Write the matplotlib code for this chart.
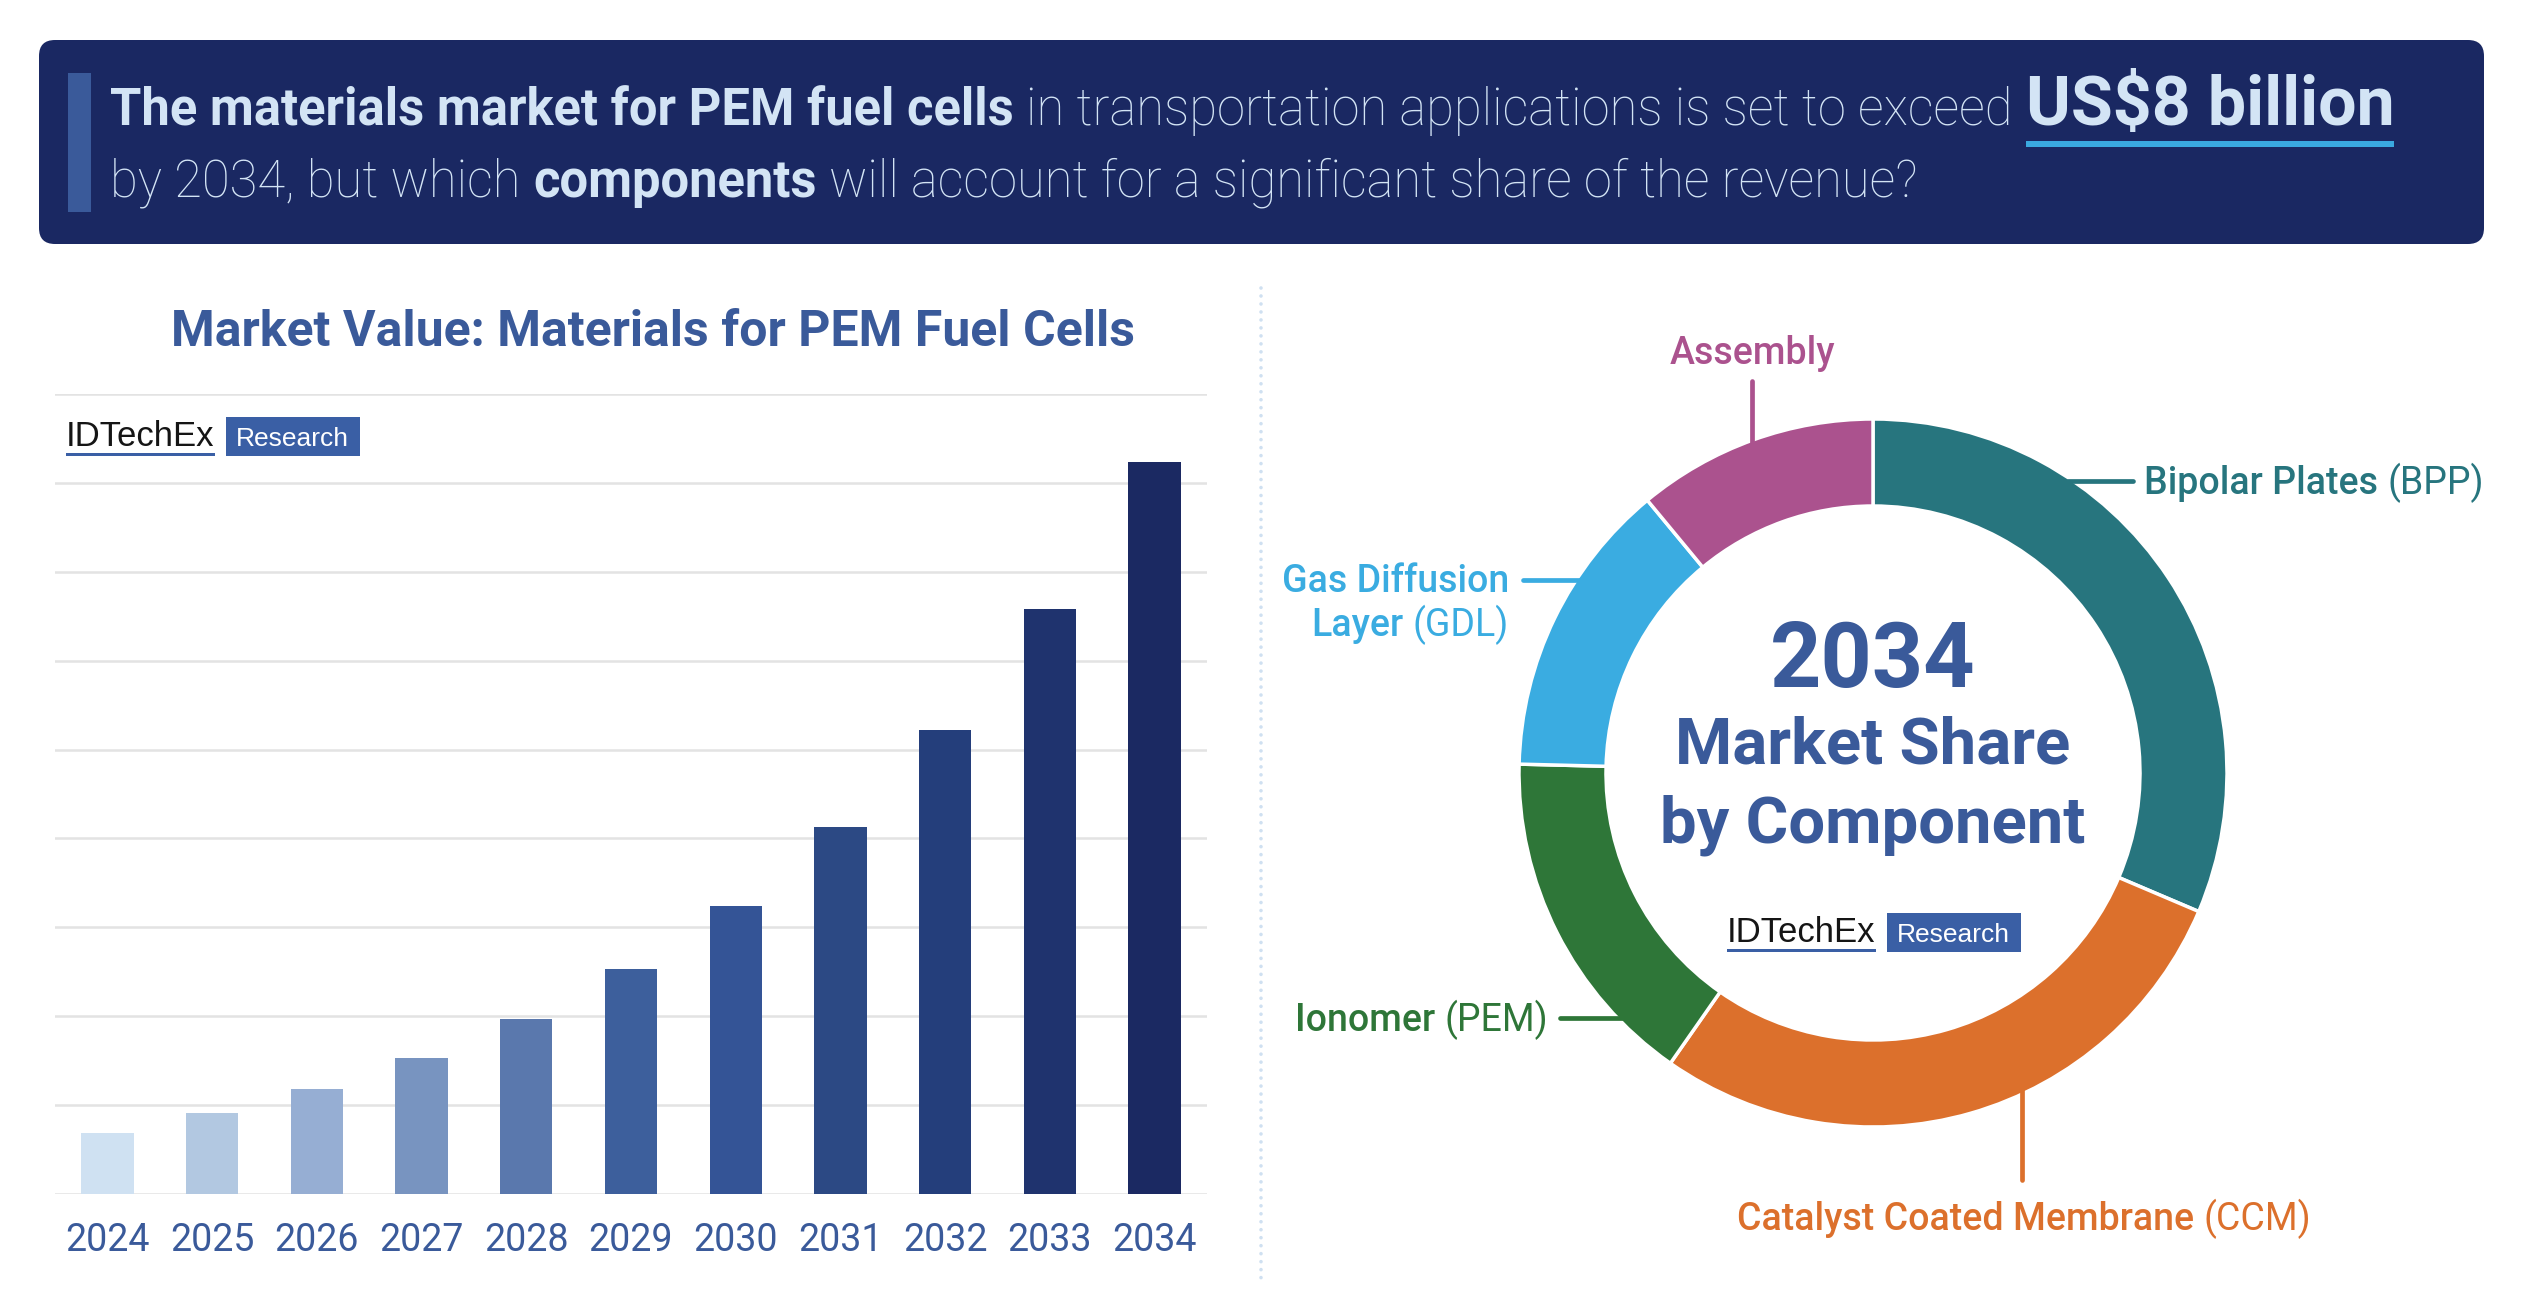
import matplotlib
matplotlib.use('Agg')
import matplotlib.pyplot as plt
from matplotlib.patches import FancyBboxPatch, Rectangle
import numpy as np

# --- data ---
years = ['2024', '2025', '2026', '2027', '2028', '2029', '2030', '2031', '2032', '2033', '2034']
market_value = [0.69, 0.91, 1.18, 1.53, 1.97, 2.53, 3.24, 4.13, 5.22, 6.58, 8.24]  # US$ billion
bar_colors = ['#cfe1f2', '#b2c8e1', '#96aed3', '#7894c0', '#5a78ad', '#3d5f9c',
              '#345496', '#2c4984', '#243e7b', '#1f336e', '#1b2962']

components = ['Bipolar Plates', 'Catalyst Coated Membrane', 'Ionomer', 'Gas Diffusion Layer', 'Assembly']
abbrev = ['(BPP)', '(CCM)', '(PEM)', '(GDL)', '']
share_2034 = [31.4, 28.3, 15.7, 13.6, 11.0]  # % of 2034 market
component_colors = ['#27757e', '#dc702c', '#2e7638', '#3aace1', '#ab528e']

W, H = 2541, 1302
NAVY = '#1a2862'
PALE = '#d3e4f5'
BLUE = '#3a5a9a'
LOGO = '#3a5fa5'
FONT = ['Roboto', 'DejaVu Sans']
ARIAL = ['Liberation Sans', 'DejaVu Sans']

fig = plt.figure(figsize=(W / 100, H / 100), dpi=100)
fig.patch.set_facecolor('white')

# overlay axes in pixel units (y down) for banner, text and leaders
over = fig.add_axes([0, 0, 1, 1], zorder=3)
over.set_xlim(0, W)
over.set_ylim(H, 0)
over.axis('off')
over.patch.set_alpha(0)

renderer = fig.canvas.get_renderer()


def px(pt):
    return pt * 100 / 72


def rich_line(x, y, pieces, size, color, ha='left'):
    """Schreibt mehrere Textstücke mit verschiedenem Gewicht auf eine Zeile."""
    texts, widths = [], []
    for s, weight, k in pieces:
        t = over.text(0, y, s, fontsize=size * k, fontweight=weight, color=color,
                      family=FONT, va='baseline', ha='left')
        texts.append(t)
        widths.append(t.get_window_extent(renderer).width)
    gap = 0.25 * px(size)
    total = sum(widths) + gap * (len(texts) - 1)
    start = {'left': x, 'right': x - total, 'center': x - total / 2}[ha]
    for t, w in zip(texts, widths):
        t.set_x(start)
        start += w + gap
    return texts, total


# --- header banner ---
over.add_patch(FancyBboxPatch((39, 40), 2445, 204, boxstyle='round,pad=0,rounding_size=16',
                              fc=NAVY, ec='none'))
over.add_patch(Rectangle((68, 73), 23, 139, fc=BLUE, ec='none'))

line1 = [('The materials market for PEM fuel cells', 'bold', 1),
         ('in transportation applications is set to exceed', 'light', 1),
         ('US$8 billion', 'bold', 1.34)]
line2 = [('by 2034, but which', 'light', 1),
         ('components', 'bold', 1),
         ('will account for a significant share of the revenue?', 'light', 1)]

tmp, w0 = rich_line(110, 125, line1, 36, PALE)
size = 36 * 2288 / w0
for t in tmp:
    t.remove()
t1, _ = rich_line(110, 125, line1, size, PALE)
t2, _ = rich_line(110, 197, line2, size, PALE)
ub = t1[-1].get_window_extent(renderer)
over.add_patch(Rectangle((t1[-1].get_position()[0], 141), ub.width, 6, fc='#3aa9e0', ec='none'))


# --- logo ---
def logo(x, base):
    t = over.text(x, base, 'IDTechEx', family=ARIAL, fontsize=25, color='#151515', va='baseline')
    w = t.get_window_extent(renderer).width
    over.add_patch(Rectangle((x, base + 7), w, 3, fc=LOGO, ec='none'))
    bx = x + w + 11
    over.add_patch(Rectangle((bx, base - 29), 134, 39, fc=LOGO, ec='none'))
    over.text(bx + 67, base, 'Research', family=ARIAL, fontsize=19, color='white',
              ha='center', va='baseline')


# --- left: bar chart ---
over.text(653, 332, 'Market Value: Materials for PEM Fuel Cells', fontsize=36, fontweight='bold',
          color=BLUE, family=FONT, ha='center', va='center')
logo(66, 446)

ax = fig.add_axes([55 / W, (H - 1194) / H, 1152 / W, 800 / H])
x = np.arange(len(years))
ax.bar(x, market_value, width=0.5, color=bar_colors, zorder=3)
ax.set_xlim(-0.5, 10.5)
ax.set_ylim(0, 9)
ax.set_yticks(range(10))
ax.set_yticklabels([])
ax.set_axisbelow(True)
ax.grid(axis='y', color='#e3e3e3', lw=1.8)
ax.set_xticks(x)
ax.set_xticklabels(years, fontsize=27, color=BLUE, family=FONT)
ax.tick_params(length=0, pad=20)
for s in ax.spines.values():
    s.set_visible(False)
ax.patch.set_alpha(0)

# dotted separator
over.plot([1261, 1261], [288, 1279], color='#cfe0f1', lw=2.6, ls=(0, (0.01, 2.2)),
          dash_capstyle='round')

# --- right: donut ---
cx, cy, R, r_in = 1873, 773, 354, 267
dax = fig.add_axes([(cx - R) / W, (H - cy - R) / H, 2 * R / W, 2 * R / H])
dax.pie(share_2034, colors=component_colors, startangle=90, counterclock=False, radius=1,
        wedgeprops=dict(width=(R - r_in) / R, edgecolor='white', linewidth=2.5))
dax.set_xlim(-1, 1)
dax.set_ylim(-1, 1)

over.text(cx, 687, '2034', fontsize=64.5, fontweight='bold', color=BLUE, family=FONT,
          ha='center', va='baseline')
over.text(cx, 764, 'Market Share', fontsize=47, fontweight='bold', color=BLUE, family=FONT,
          ha='center', va='baseline')
over.text(cx, 843, 'by Component', fontsize=47, fontweight='bold', color=BLUE, family=FONT,
          ha='center', va='baseline')
logo(1727, 942)


def leader(xs, ys, c):
    over.plot(xs, ys, color=c, lw=3.4, solid_capstyle='round')


def edge_x(y, side):
    return cx + side * np.sqrt(R ** 2 - (y - cy) ** 2)


def edge_y(xv, side):
    return cy + side * np.sqrt(R ** 2 - (xv - cx) ** 2)


LBL = 27
# Bipolar Plates
c = component_colors[0]
leader([edge_x(481, 1) - 5, 2133], [481, 481], c)
rich_line(2144, 494, [(components[0], 'medium', 1), (abbrev[0], 'normal', 1)], LBL, c)
# Catalyst Coated Membrane
c = component_colors[1]
leader([2022, 2022], [edge_y(2022, 1) - 4, 1180], c)
rich_line(2024, 1230, [(components[1], 'medium', 1), (abbrev[1], 'normal', 1)], LBL, c, ha='center')
# Ionomer
c = component_colors[2]
leader([1560, edge_x(1018, -1) + 5], [1018, 1018], c)
rich_line(1548, 1031, [(components[2], 'medium', 1), (abbrev[2], 'normal', 1)], LBL, c, ha='right')
# Gas Diffusion Layer
c = component_colors[3]
leader([1523, edge_x(580, -1) + 5], [580, 580], c)
rich_line(1509, 592, [('Gas Diffusion', 'medium', 1)], LBL, c, ha='right')
rich_line(1509, 636, [('Layer', 'medium', 1), (abbrev[3], 'normal', 1)], LBL, c, ha='right')
# Assembly
c = component_colors[4]
leader([1752, 1752], [381, edge_y(1752, -1) + 4], c)
rich_line(1752, 364, [(components[4], 'medium', 1)], LBL, c, ha='center')

fig.savefig('out.png', dpi=100, facecolor='white')
